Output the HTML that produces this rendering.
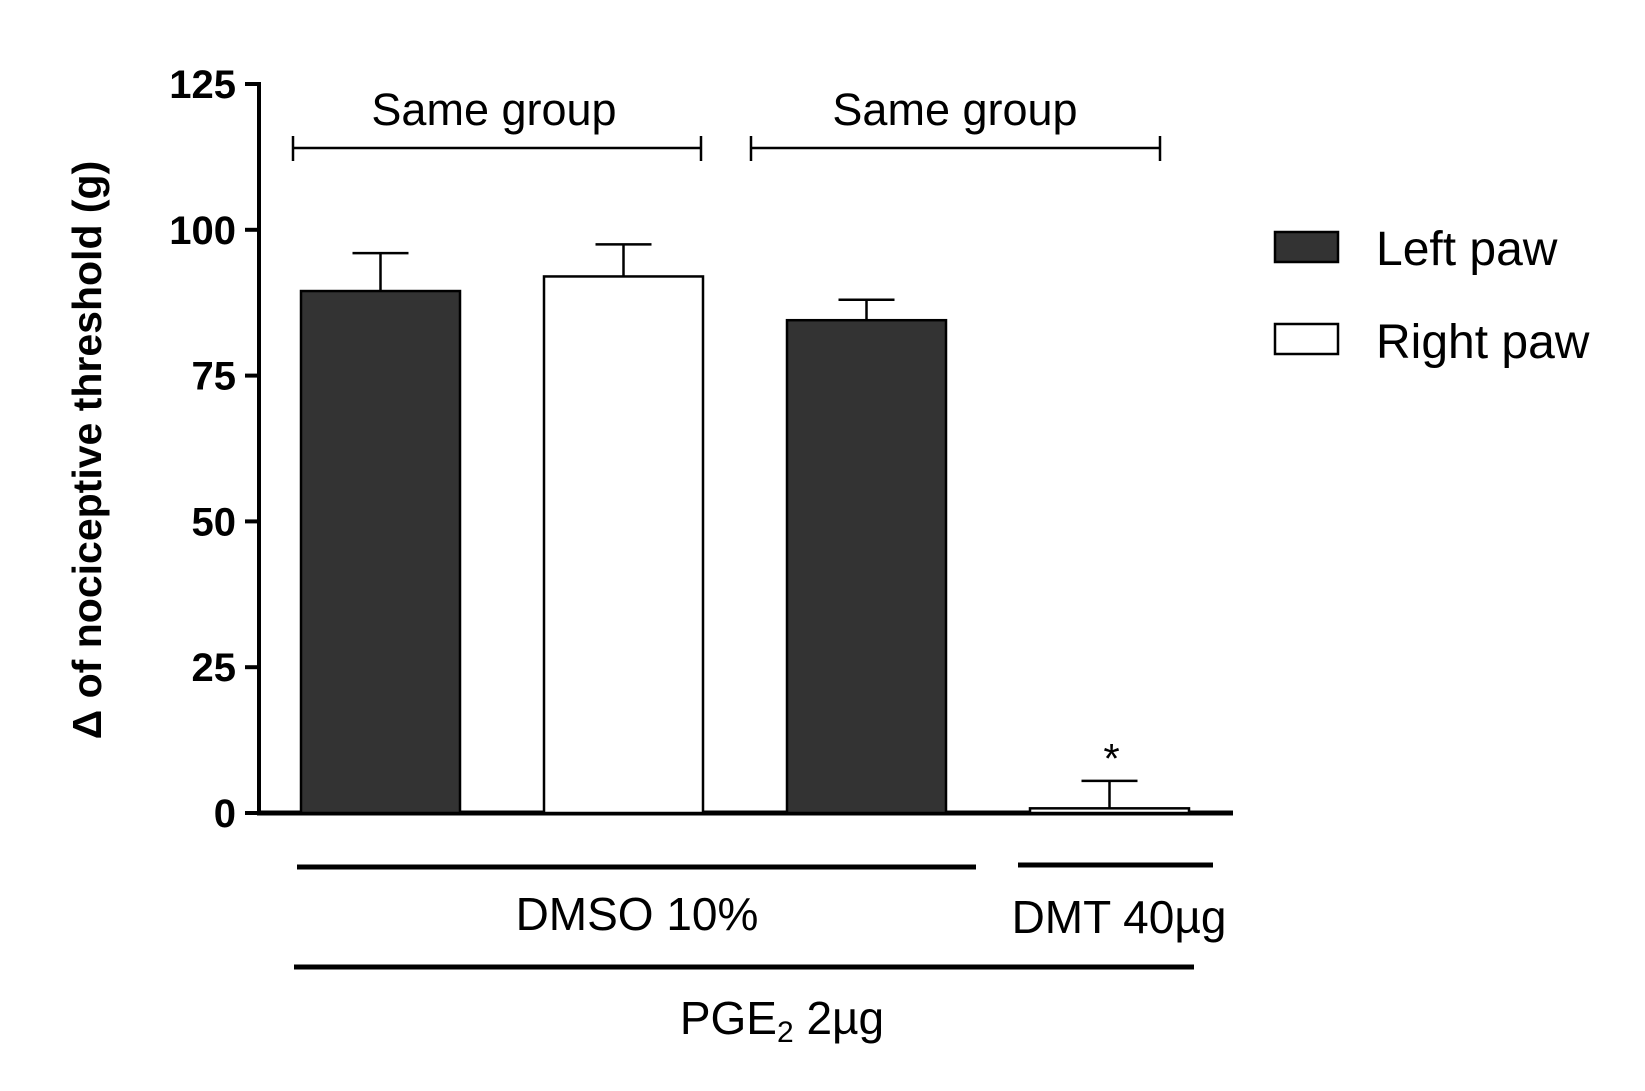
<!DOCTYPE html>
<html><head><meta charset="utf-8"><style>html,body{margin:0;padding:0;background:#fff}svg{display:block}text{font-family:"Liberation Sans",Arial,sans-serif}</style></head>
<body>
<svg id="chart" width="1645" height="1091" viewBox="0 0 1645 1091" xmlns="http://www.w3.org/2000/svg">
<g id="axes"></g>
<g id="bars"></g>
<text transform="translate(101,450) rotate(-90)" text-anchor="middle" font-size="41" font-weight="bold">Δ of nociceptive threshold (g)</text>
<g stroke="#000" stroke-width="2.5"><line x1="293" y1="148" x2="701" y2="148"/><line x1="293" y1="136" x2="293" y2="161"/><line x1="701" y1="136" x2="701" y2="161"/></g>
<text x="494" y="125" text-anchor="middle" font-size="45">Same group</text>
<g stroke="#000" stroke-width="2.5"><line x1="751" y1="148" x2="1160" y2="148"/><line x1="751" y1="136" x2="751" y2="161"/><line x1="1160" y1="136" x2="1160" y2="161"/></g>
<text x="955" y="125" text-anchor="middle" font-size="45">Same group</text>
<rect x="1275" y="232" width="63" height="30" fill="#333" stroke="#000" stroke-width="2.5"/>
<text x="1376" y="265" font-size="48">Left paw</text>
<rect x="1275" y="324" width="63" height="30" fill="#fff" stroke="#000" stroke-width="2.5"/>
<text x="1376" y="358" font-size="48">Right paw</text>
<line x1="297" y1="867" x2="976" y2="867" stroke="#000" stroke-width="5"/>
<line x1="1018" y1="865" x2="1213" y2="865" stroke="#000" stroke-width="5"/>
<text x="637" y="930" text-anchor="middle" font-size="46">DMSO 10%</text>
<text x="1119" y="933" text-anchor="middle" font-size="46">DMT 40µg</text>
<line x1="294" y1="967" x2="1194" y2="967" stroke="#000" stroke-width="5"/>
<text x="782" y="1034" text-anchor="middle" font-size="46">PGE<tspan font-size="30" dy="8">2</tspan><tspan dy="-8"> 2µg</tspan></text>
<script>
const categories = ["DMSO left", "DMSO right", "DMT left", "DMT right"];
const values = [89.5, 92, 84.5, 0.8];
const errors = [6.5, 5.5, 3.5, 4.7];
const fills = ["#333333", "#ffffff", "#333333", "#ffffff"];
const yTicks = [0, 25, 50, 75, 100, 125];
const significance = ["", "", "", "*"];

const NS = "http://www.w3.org/2000/svg";
const y0 = 813, yTop = 84, yMax = 125;
function yScale(v){ return y0 - (y0 - yTop) * v / yMax; }
const x0 = 301, step = 243, bw = 159;
function xScale(i){ return x0 + i * step; }
function mk(tag, attrs, parent){ const e = document.createElementNS(NS, tag); for (const k in attrs) e.setAttribute(k, attrs[k]); parent.appendChild(e); return e; }

const axes = document.getElementById("axes");
const bars = document.getElementById("bars");
yTicks.forEach(t => {
  const y = yScale(t);
  const tk = mk("line", {x1: 245, y1: y, x2: 259, y2: y, stroke: "#000", "stroke-width": 4}, axes);
  
  
  const lb = mk("text", {x: 236, y: y + 14, "text-anchor": "end", "font-size": 40, "font-weight": "bold"}, axes);
  lb.textContent = t;
  
  
});
const ya = mk("line", {x1: 259, y1: yTop - 2, x2: 259, y2: y0 + 2, stroke: "#000", "stroke-width": 4}, axes);



values.forEach((v, i) => {
  const x = xScale(i), y = yScale(v), cx = x + bw / 2;
  const ey = yScale(v + errors[i]);
  const el = mk("line", {x1: cx, y1: y, x2: cx, y2: ey, stroke: "#000", "stroke-width": 2.5}, bars);
  
  
  const cap = mk("line", {x1: cx - 28, y1: ey, x2: cx + 28, y2: ey, stroke: "#000", "stroke-width": 2.5}, bars);
  
  
  const r = mk("rect", {x: x, y: y, width: bw, height: y0 - y, fill: fills[i], stroke: "#000", "stroke-width": 2.5}, bars);
  
  
  if (significance[i]) {
    const s = mk("text", {x: cx + 2, y: ey - 8, "text-anchor": "middle", "font-size": 42}, bars);
    s.textContent = significance[i];
    
    
  }
});
const xa = mk("line", {x1: 257, y1: y0, x2: 1233, y2: y0, stroke: "#000", "stroke-width": 5}, axes);


</script>
</svg>
</body></html>
